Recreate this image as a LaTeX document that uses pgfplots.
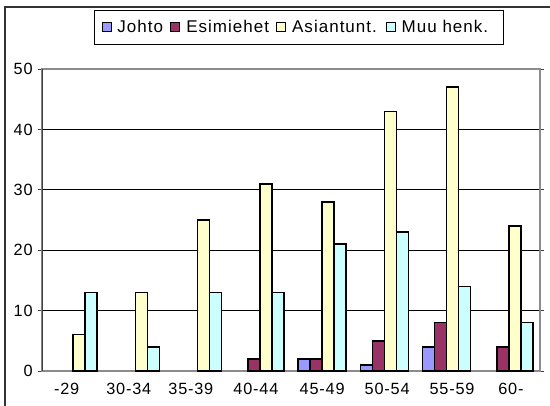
\documentclass[border=0pt]{standalone}
\usepackage{fontspec}
\setmainfont{Liberation Sans}
\newfontfamily\legfont{Liberation Sans}[LetterSpace=6]
\newfontfamily\tickfont{Liberation Sans}[LetterSpace=5]
\usepackage{pgfplots}
\pgfplotsset{compat=1.18}
\definecolor{cJohto}{HTML}{9999FF}
\definecolor{cEsim}{HTML}{993366}
\definecolor{cAsia}{HTML}{FFFFCC}
\definecolor{cMuu}{HTML}{CCFFFF}
\pgfplotsset{sqlegend/.style={legend image code/.code={%
  \path[draw=none,fill=none] (0pt,0pt) -- (11.5pt,0pt);
  \draw[##1,line width=0.7pt] (0pt,-3.375pt) rectangle (6.75pt,3.375pt);}}}
\begin{document}
\begin{tikzpicture}[x=1pt,y=1pt]
\useasboundingbox (0,0) rectangle (412.5,303.75);
\draw[line width=1.4pt, black!80] (3.75,-2) -- (3.75,298.5) -- (416,298.5);
\begin{axis}[
  at={(31.5pt,25.5pt)}, anchor=south west,
  scale only axis, width=373.5pt, height=226.5pt,
  xmin=-0.5, xmax=7.5, ymin=0, ymax=50,
  ytick={0,10,20,30,40,50},
  xtick={-0.104,0.894,1.891,2.936,4,5.045,6.087,7.032},
  xticklabels={-29,30-34,35-39,40-44,45-49,50-54,55-59,60-},
  ybar=0pt, bar width=9pt,
  ymajorgrids, grid style={black, line width=0.75pt},
  axis line style={draw=black!45, line width=1.5pt},
  tick align=outside, major tick length=3pt,
  ytick style={draw=black!75, line width=0.75pt},
  xtick style={draw=none},
  /pgf/number format/assume math mode=true,
  tick label style={font=\tickfont\fontsize{12.2}{14}\selectfont},
  xticklabel style={yshift=-2.5pt},
  yticklabel style={xshift=-0.5pt},
  legend columns=4,
  legend style={at={(0.516,1.139)}, anchor=center, draw=black, line width=0.75pt,
    font=\legfont\fontsize{12.75}{15}\selectfont,
    nodes={inner xsep=0pt, inner ysep=3pt},
    /tikz/every even column/.append style={column sep=5.3pt},
    inner xsep=5pt, inner ysep=4.4pt},
]
\addplot[fill=cJohto, draw=black, line width=1.1pt, sqlegend] coordinates {(4,2) (5,1) (6,4)};
\addplot[fill=cEsim, draw=black, line width=1.1pt, sqlegend] coordinates {(3,2) (4,2) (5,5) (6,8) (7,4)};
\addplot[fill=cAsia, draw=black, line width=1.1pt, sqlegend] coordinates {(0,6) (1,13) (2,25) (3,31) (4,28) (5,43) (6,47) (7,24)};
\addplot[fill=cMuu, draw=black, line width=1.1pt, sqlegend] coordinates {(0,13) (1,4) (2,13) (3,13) (4,21) (5,23) (6,14) (7,8)};
\legend{\makebox[34.5pt][l]{Johto},\makebox[62.25pt][l]{Esimiehet},\makebox[65pt][l]{Asiantunt.},\makebox[71pt][l]{Muu henk.}}
\draw[black!75, line width=1.2pt] (rel axis cs:0,0) -- (rel axis cs:0,1);
\end{axis}
\end{tikzpicture}
\end{document}
